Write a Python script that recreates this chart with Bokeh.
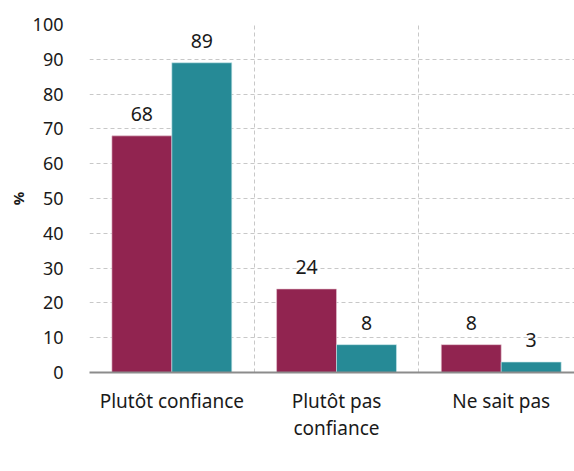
from bokeh.plotting import figure
from bokeh.models import (ColumnDataSource, Range1d, FixedTicker, LabelSet, Legend, LegendItem)
from bokeh.core.properties import value
from bokeh.transform import dodge
from bokeh.embed import file_html
from bokeh.resources import INLINE

categories = ["Plutôt confiance", "Plutôt pas\nconfiance", "Ne sait pas"]
mypanel = [68, 24, 8]
newsletter = [89, 8, 3]
series_names = ["MyPanel", "Newsletter"]
y_ticks = [0, 10, 20, 30, 40, 50, 60, 70, 80, 90, 100]

C_MY = "#912450"
C_NL = "#268A96"
FONT = "Noto Sans"

centers = [i + 0.5 for i in range(len(categories))]
src = ColumnDataSource(dict(x=centers, my=mypanel, nl=newsletter,
                            my_t=[str(v) for v in mypanel],
                            nl_t=[str(v) for v in newsletter]))

p = figure(frame_width=485, frame_height=348,
           output_backend="svg", toolbar_location=None,
           x_range=Range1d(0, 2.945), y_range=Range1d(0, 100),
           min_border_left=89, min_border_right=0, min_border_top=24,
           min_border_bottom=0)
p.outline_line_color = None

bw = 0.364
off = bw / 2
r1 = p.vbar(x=dodge("x", -off), top="my", width=bw, source=src,
            fill_color=C_MY, line_color="#e8c8d4", line_width=0.6)
r2 = p.vbar(x=dodge("x", off), top="nl", width=bw, source=src,
            fill_color=C_NL, line_color="#c8e6ea", line_width=0.6)

for col, tcol, d in [("my", "my_t", -off), ("nl", "nl_t", off)]:
    p.add_layout(LabelSet(x=dodge("x", d), y=col, text=tcol, source=src,
                          text_align="center", text_baseline="alphabetic",
                          y_offset=15, text_font=value(FONT),
                          text_font_size=value("19.5px"),
                          text_color=value("#1a1a1a")))

# grids
p.ygrid.ticker = FixedTicker(ticks=y_ticks)
p.ygrid.grid_line_color = "#c8c8c8"
p.ygrid.grid_line_dash = "4 3"
p.ygrid.grid_line_width = 1
p.xgrid.ticker = FixedTicker(ticks=[0, 1, 2, 3])
p.xgrid.grid_line_color = "#c8c8c8"
p.xgrid.grid_line_dash = "4 3"
p.xgrid.grid_line_width = 1

# y axis
p.yaxis.ticker = FixedTicker(ticks=y_ticks)
p.yaxis.axis_line_color = None
p.yaxis.major_tick_line_color = None
p.yaxis.minor_tick_line_color = None
p.yaxis.major_label_standoff = 20
p.yaxis.major_label_text_font = FONT
p.yaxis.major_label_text_font_size = "18px"
p.yaxis.major_label_text_color = "#1a1a1a"
p.yaxis.axis_label = "%"
p.yaxis.axis_label_text_font = FONT
p.yaxis.axis_label_text_font_size = "15px"
p.yaxis.axis_label_text_font_style = "bold"
p.yaxis.axis_label_text_color = "#1a1a1a"
p.yaxis.axis_label_standoff = 2

# x axis
p.xaxis.ticker = FixedTicker(ticks=centers)
p.xaxis.major_label_overrides = {c: lab for c, lab in zip(centers, categories)}
p.xaxis.axis_line_color = "#8c8c8c"
p.xaxis.axis_line_width = 2
p.xaxis.major_tick_line_color = None
p.xaxis.minor_tick_line_color = None
p.xaxis.major_label_standoff = 9
p.xaxis.major_label_text_font = FONT
p.xaxis.major_label_text_font_size = "19px"
p.xaxis.major_label_text_line_height = 1.05
p.xaxis.major_label_text_color = "#1a1a1a"

legend = Legend(items=[LegendItem(label=series_names[0], renderers=[r1]),
                       LegendItem(label=series_names[1], renderers=[r2])],
                orientation="horizontal", location="top_center",
                label_text_font=FONT, label_text_font_size="19px",
                label_text_color="#1a1a1a", glyph_width=13, glyph_height=13,
                label_standoff=5, spacing=49, border_line_color=None,
                background_fill_alpha=0, margin=5, padding=0)
p.add_layout(legend, "below")

open("out.html", "w").write(file_html(p, INLINE))
